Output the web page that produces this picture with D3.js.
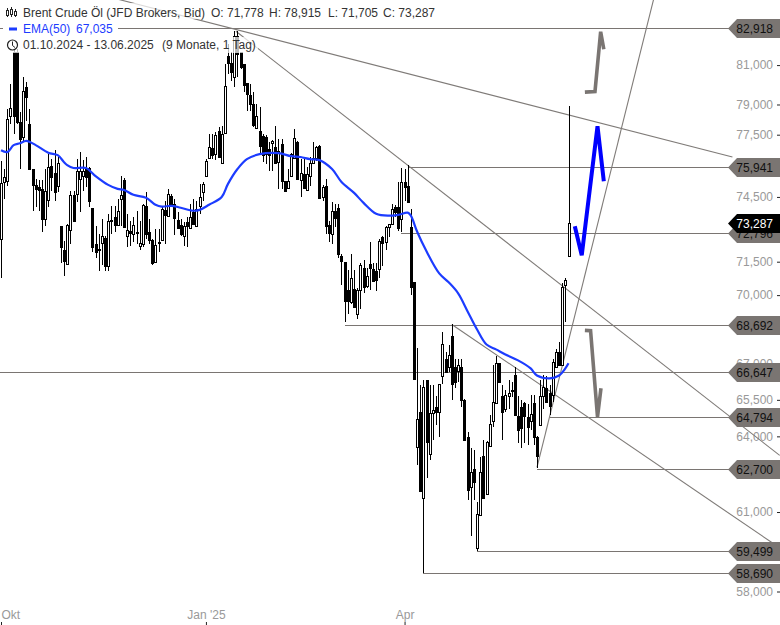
<!DOCTYPE html>
<html>
<head>
<meta charset="utf-8">
<script src="https://cdnjs.cloudflare.com/ajax/libs/d3/7.8.5/d3.min.js"></script>
<style>
  html, body { margin: 0; padding: 0; background: #fff; overflow: hidden; }
  text { font-family: "Liberation Sans", Arial, sans-serif; font-size: 12px; }
</style>
</head>
<body>
<div id="chart"></div>
<script>
// daily candles, Oct 2024 - Jun 2025
const opens = [72.55,75.21,75.26,78.42,81.66,81.66,78.12,77.38,79.87,78.02,75.83,75.07,74.97,74.88,73.48,74.36,75.97,75.64,75.02,73.15,
  72.01,71.38,72.96,74.60,74.64,75.35,75.49,75.83,75.88,73.99,72.32,72.10,72.37,72.60,71.29,73.38,73.57,73.20,74.41,75.30,
  72.69,72.92,72.78,72.83,72.23,72.32,74.08,72.87,72.50,71.47,72.37,72.50,73.89,73.62,74.55,74.18,73.43,73.20,72.69,73.34,
  73.06,73.80,73.15,74.08,74.74,75.49,76.36,76.84,76.55,77.67,76.12,77.57,81.46,81.10,80.38,82.50,81.66,81.05,80.08,79.46,
  79.01,77.82,77.67,77.43,77.38,76.79,77.08,76.89,76.16,77.03,75.26,74.93,75.49,76.36,77.13,75.30,75.59,74.83,75.49,76.12,
  76.36,76.94,74.50,75.02,73.20,72.78,73.85,73.99,71.74,71.47,70.21,69.68,70.26,69.15,70.21,71.20,70.39,71.38,71.15,71.06,
  71.15,72.64,72.41,73.10,73.25,74.04,74.04,73.48,75.21,75.02,73.10,70.57,63.57,65.01,61.56,66.31,63.30,64.97,65.22,65.01,
  66.48,67.24,66.90,68.19,66.90,66.69,66.90,65.51,63.98,61.98,62.70,59.62,60.89,63.22,61.72,63.62,64.64,65.35,67.03,65.64,
  65.10,65.68,65.93,66.52,64.85,65.22,65.35,64.81,64.64,65.35,63.98,64.47,65.64,66.01,65.80,65.72,66.90,67.54,66.98,70.44,71.778];
const highs = [76.21,75.83,78.76,80.03,81.82,81.82,78.60,80.38,80.13,78.76,75.83,75.35,75.30,75.30,75.83,76.55,76.31,76.74,76.41,73.15,
  72.46,73.25,74.79,74.79,76.31,76.65,76.26,76.41,75.93,73.99,73.15,72.78,73.48,72.69,73.71,74.08,74.08,74.41,75.49,75.40,
  73.71,73.38,73.57,73.85,73.38,74.18,74.74,73.48,72.55,73.01,73.01,74.08,74.32,74.88,74.64,74.41,73.80,73.48,73.34,73.57,
  74.18,74.41,74.32,75.12,75.21,76.31,77.52,77.52,77.62,77.87,77.92,81.05,82.08,81.66,82.76,82.76,81.66,81.05,80.08,80.03,
  79.62,79.01,78.86,77.52,77.47,77.13,77.23,77.92,77.28,77.28,75.26,75.83,76.60,77.77,77.18,76.31,76.31,75.93,76.41,77.13,
  76.94,76.99,75.07,75.35,73.38,74.27,74.18,74.18,71.87,71.47,71.11,71.83,71.11,70.30,71.42,71.56,71.20,72.41,71.42,71.42,
  72.55,72.69,73.15,73.25,74.18,74.13,75.21,75.88,75.83,76.02,73.94,70.57,67.68,66.14,66.35,66.35,66.14,66.14,65.64,66.18,
  68.36,67.54,67.84,68.71,67.20,67.24,67.20,65.55,64.18,63.54,63.46,61.40,63.18,63.86,63.82,64.89,66.98,67.33,67.03,66.14,
  65.93,66.35,66.26,66.86,65.64,65.51,65.43,65.31,65.72,65.72,64.02,66.31,66.52,66.48,66.14,67.20,67.63,67.93,70.53,70.75,78.915];
const lows = [70.75,74.41,75.02,78.02,77.52,78.02,75.83,77.18,78.17,75.83,73.85,74.04,73.85,72.87,73.15,74.04,74.79,74.32,74.74,71.42,
  70.84,71.33,72.32,73.38,74.27,73.80,74.79,74.97,74.04,71.96,71.65,71.06,71.33,71.06,71.06,72.78,72.87,73.15,73.15,73.10,
  72.19,72.23,72.41,72.32,72.01,72.19,72.55,72.32,71.33,71.42,71.96,72.50,72.32,73.62,74.04,72.73,73.01,72.69,72.23,72.19,
  73.01,73.20,73.15,73.71,74.32,75.45,76.31,76.31,76.26,76.36,76.07,77.52,80.54,80.18,79.87,80.38,80.79,79.62,78.66,78.66,
  77.87,77.77,76.50,76.16,76.07,75.73,75.73,76.12,74.88,74.88,74.74,74.88,75.45,76.31,75.30,74.50,74.88,74.79,75.02,76.07,
  76.21,74.41,74.32,72.78,72.41,72.32,73.10,71.69,70.44,68.80,69.15,69.59,69.47,68.95,69.38,70.08,70.30,70.21,70.62,70.17,
  70.75,71.29,72.01,72.64,73.25,73.57,72.92,72.87,74.32,74.27,70.00,66.36,62.86,61.78,58.69,62.34,63.06,63.86,64.47,63.98,
  66.18,66.65,66.65,65.51,66.01,66.26,65.22,63.82,61.48,60.09,61.48,59.50,60.89,61.56,61.68,63.62,64.39,65.35,66.22,63.86,
  65.01,65.10,65.60,64.85,63.74,63.54,63.74,63.66,64.27,63.66,62.74,64.47,65.10,65.39,64.89,65.39,66.90,66.94,66.98,68.80,71.705];
const closes = [75.16,75.45,78.27,78.81,78.42,78.12,77.28,79.67,79.36,75.83,75.07,74.88,74.83,73.48,74.79,75.93,75.45,74.74,76.12,72.19,
  71.51,73.20,74.60,73.38,75.73,75.73,75.73,75.45,74.32,72.19,71.96,72.01,72.69,71.29,73.38,73.43,73.20,73.85,74.60,73.10,
  72.96,72.83,73.20,72.87,72.37,74.13,72.78,72.50,71.42,72.28,72.41,73.94,73.66,74.64,74.08,73.53,73.06,72.78,73.15,73.15,
  73.57,73.25,73.94,74.50,75.12,76.21,76.89,76.50,77.47,76.41,77.52,79.92,81.10,80.64,82.50,81.56,80.89,79.97,79.52,79.01,
  77.97,78.42,76.94,76.50,76.55,76.50,77.18,76.12,76.69,75.26,74.79,75.26,76.55,77.33,75.35,75.64,74.93,75.59,76.12,76.36,
  76.89,74.46,74.97,73.15,72.83,73.85,73.53,71.87,71.51,69.72,69.72,70.75,69.47,70.21,71.33,70.35,70.84,71.20,70.62,70.66,
  72.46,72.37,73.10,73.25,73.94,73.80,73.06,75.21,74.97,74.27,70.35,66.38,64.72,61.81,66.05,63.78,64.97,65.09,65.01,66.18,
  67.88,66.65,67.41,66.18,66.26,66.95,65.51,63.86,61.87,62.58,62.18,60.93,62.58,61.56,63.78,64.51,65.43,67.03,66.26,65.01,
  65.72,65.80,65.89,64.89,64.26,64.35,64.85,64.39,64.93,63.98,63.22,65.64,66.05,65.39,65.26,67.11,67.54,66.98,70.35,70.66,73.287];

// EMA(50) read at a set of bars
const emaBars = [0,2,4,6,8,11,15,18,20,21,23,27,30,34,37,39,42,46,49,51,54,57,61,63,66,70,72,75,78,82,88,92,95,98,101,105,108,112,115,119,123,126,129,130,132,135,139,142,145,148,151,154,157,160,164,168,170,174,177,179,180];
const emaValues = [76.74,76.65,76.99,77.08,77.20,76.99,76.62,76.50,76.16,76.02,75.88,75.88,75.49,75.07,74.88,74.83,74.60,74.46,74.13,74.04,74.08,73.99,73.85,73.89,74.13,74.50,75.12,75.83,76.31,76.55,76.60,76.45,76.41,76.31,76.26,75.83,75.21,74.69,74.22,73.71,73.62,73.66,73.76,73.62,72.87,71.96,70.97,70.57,70.08,69.28,68.49,67.84,67.63,67.41,67.16,66.82,66.52,66.40,66.52,66.82,67.035];

// horizontal levels: price and the bar where each line starts
const levelValues = [82.918,75.941,72.796,68.692,66.647,64.794,62.700,59.499,58.690];
const levelStarts = [-1,129,127,109,-1,174,170,151,134];
const lastPrice = 73.287;

// trend lines as [bar, price] pairs
const trendLines = [
  [[37,84.46],[232,76.41]],
  [[74.5,82.76],[247,63.23]],
  [[143,68.71],[244.5,59.83]],
  [[170,62.75],[207,84.46]]
];

// scenario arrows drawn on the chart
const blueArrow = [[182,73.13],[184.2,71.79],[189.2,77.92],[191.2,75.24]];
const greyUpArrow = [[185.2,79.62],[188.4,79.65],[190.2,82.73],[191.2,81.82]];
const greyDownArrow = [[185.2,68.45],[187,68.44],[189.2,64.80],[190.3,65.98]];

const yTicks = [81,79,77.5,74.5,71.5,70,67,65.5,64,61,58];
const xTickBars = [0,65,128];
const xTickLabels = ["Okt","Jan '25","Apr"];

const width = 780, height = 625, labelLeft = 728;
const lineGrey = "#7a7572", textGrey = "#999", emaBlue = "#1c3cff";

const svg = d3.select("#chart").append("svg")
    .attr("width", width)
    .attr("height", height)
    .style("display", "block");

const xScale = d3.scaleLinear().domain([0, opens.length - 1]).range([1, 568.5]);
const yScale = d3.scaleLog().domain([82.918, 58]).range([28.2, 591.5]);
const price3 = v => v.toFixed(3).replace(".", ",");
const lineGen = d3.line().x(d => xScale(d[0])).y(d => yScale(d[1]));

// axes
const yAxis = svg.append("g")
    .attr("transform", `translate(${width},0)`)
    .call(d3.axisLeft(yScale).tickValues(yTicks).tickFormat(price3).tickSize(3).tickPadding(4));
yAxis.select(".domain").remove();
yAxis.selectAll("text").attr("fill", textGrey).style("font-size", "12px");
yAxis.selectAll("line").attr("stroke", "#222");

const xAxis = svg.append("g")
    .attr("transform", `translate(0,${height})`)
    .call(d3.axisTop(xScale).tickValues(xTickBars).tickFormat((d, i) => xTickLabels[i]).tickSize(3).tickPadding(3));
xAxis.select(".domain").remove();
xAxis.selectAll("text").attr("fill", textGrey).style("font-size", "12px");
xAxis.selectAll("line").attr("stroke", "#222");
xAxis.select("text").attr("text-anchor", "start");

// levels and trend lines sit under the candles
svg.append("g").selectAll("line")
    .data(levelValues)
    .enter().append("line")
    .attr("x1", (d, i) => Math.round(xScale(levelStarts[i])))
    .attr("x2", labelLeft + 4)
    .attr("y1", d => Math.round(yScale(d)) + 0.5)
    .attr("y2", d => Math.round(yScale(d)) + 0.5)
    .attr("stroke", lineGrey)
    .attr("stroke-width", 1);

svg.append("g").selectAll("path")
    .data(trendLines)
    .enter().append("path")
    .attr("d", lineGen)
    .attr("fill", "none")
    .attr("stroke", "#7f7b78")
    .attr("stroke-width", 1.1);

// candles
const candles = svg.append("g").attr("shape-rendering", "crispEdges")
    .selectAll("g")
    .data(opens.map((o, i) => ({ i, o, h: highs[i], l: lows[i], c: closes[i] })))
    .enter().append("g")
    .attr("transform", d => `translate(${Math.round(xScale(d.i))},0)`);

candles.append("line")
    .attr("x1", 0.5).attr("x2", 0.5)
    .attr("y1", d => yScale(d.h))
    .attr("y2", d => yScale(d.l))
    .attr("stroke", "#000");

candles.append("rect")
    .attr("x", -0.5)
    .attr("width", 2)
    .attr("y", d => Math.round(yScale(Math.max(d.o, d.c))) + 0.5)
    .attr("height", d => Math.max(1, Math.round(yScale(Math.min(d.o, d.c))) - Math.round(yScale(Math.max(d.o, d.c)))))
    .attr("fill", d => d.c >= d.o ? "#fff" : "#000")
    .attr("stroke", "#000");

// EMA(50)
svg.append("path")
    .datum(emaBars.map((b, i) => [b, emaValues[i]]))
    .attr("d", lineGen.curve(d3.curveCatmullRom))
    .attr("fill", "none")
    .attr("stroke", emaBlue)
    .attr("stroke-width", 2.2);
lineGen.curve(d3.curveLinear);

// arrows
svg.append("path").datum(blueArrow)
    .attr("d", lineGen)
    .attr("fill", "none")
    .attr("stroke", "#0000ff")
    .attr("stroke-width", 4);

svg.append("g").selectAll("path")
    .data([greyUpArrow, greyDownArrow])
    .enter().append("path")
    .attr("d", lineGen)
    .attr("fill", "none")
    .attr("stroke", lineGrey)
    .attr("stroke-width", 3.6);

// price labels on the right
function priceLabel(value, bg, fg) {
    const y = Math.round(yScale(value)) + 0.5;
    const g = svg.append("g").attr("transform", `translate(0,${y})`);
    g.append("path")
        .attr("d", `M${labelLeft},0L${labelLeft + 9},-9.5H${width}V9.5H${labelLeft + 9}Z`)
        .attr("fill", bg);
    g.append("text")
        .attr("x", width - 7)
        .attr("y", 4.5)
        .attr("text-anchor", "end")
        .attr("fill", fg)
        .text(price3(value));
}
levelValues.forEach(v => priceLabel(v, lineGrey, "#111"));
priceLabel(lastPrice, "#000", "#fff");

// legend, top left
const legend = svg.append("g");
[[0, 3, 442, 0.72], [3, 21, 115, 1], [0, 37, 258, 0.72]].forEach(b => {
    legend.append("rect")
        .attr("x", b[0]).attr("y", b[1]).attr("width", b[2]).attr("height", 16)
        .attr("fill", "#fff").attr("fill-opacity", b[3]);
});

const icon = legend.append("g").attr("stroke", "#222").attr("fill", "none").attr("shape-rendering", "crispEdges");
[[7, 8, 17, 10, 15], [11, 7, 17, 9, 14], [15, 9, 17, 11, 15]].forEach(c => {
    icon.append("line").attr("x1", c[0] + 0.5).attr("x2", c[0] + 0.5).attr("y1", c[1]).attr("y2", c[2]);
    icon.append("rect").attr("x", c[0] - 0.5).attr("y", c[3] + 0.5).attr("width", 2).attr("height", c[4] - c[3]).attr("fill", "#fff");
});

legend.append("rect").attr("x", 9).attr("y", 27.5).attr("width", 8).attr("height", 3).attr("fill", emaBlue);

legend.append("circle").attr("cx", 12.5).attr("cy", 45).attr("r", 5).attr("fill", "none").attr("stroke", "#222").attr("stroke-width", 1.2);
legend.append("path").attr("d", "M12.5,41.5V45.5L15,47.5").attr("fill", "none").attr("stroke", "#222");

const legendTexts = [
    ["Brent Crude Öl (JFD Brokers, Bid)", 23, 17, "#333"],
    ["O: 71,778", 211, 17, "#333"],
    ["H: 78,915", 269, 17, "#333"],
    ["L: 71,705", 328, 17, "#333"],
    ["C: 73,287", 383, 17, "#333"],
    ["EMA(50)", 23, 33, emaBlue],
    ["67,035", 76, 33, emaBlue],
    ["01.10.2024 - 13.06.2025", 23, 49, "#333"],
    ["(9 Monate, 1 Tag)", 162, 49, "#333"]
];
legend.selectAll("text")
    .data(legendTexts)
    .enter().append("text")
    .attr("x", d => d[1])
    .attr("y", d => d[2])
    .attr("fill", d => d[3])
    .text(d => d[0]);
</script>
</body>
</html>
